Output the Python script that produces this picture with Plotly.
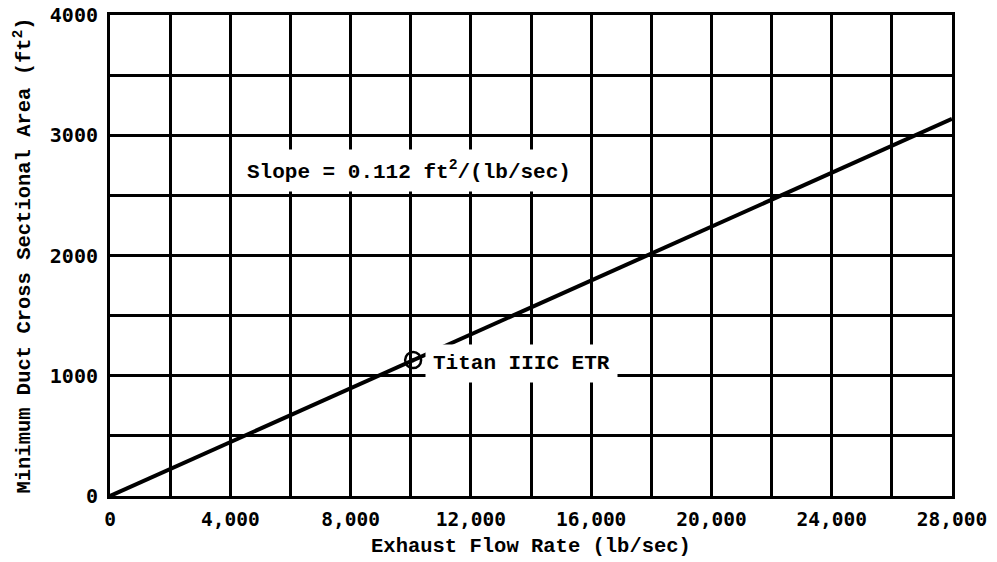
import plotly.graph_objects as go

# Data
flow_rate = [0, 28000]            # lb/sec
duct_area = [0, 3136]             # ft^2  (slope 0.112)
titan_x = [10080]
titan_y = [1130]
x_tick_vals = [0, 4000, 8000, 12000, 16000, 20000, 24000, 28000]
x_tick_text = ["0", "4,000", "8,000", "12,000", "16,000", "20,000", "24,000", "28,000"]
y_tick_vals = [0, 1000, 2000, 3000, 4000]
y_tick_text = ["0", "1000", "2000", "3000", "4000"]

FONT = "Liberation Mono"

fig = go.Figure()
fig.add_trace(go.Scatter(x=flow_rate, y=duct_area, mode="lines",
                         line=dict(color="black", width=4), showlegend=False,
                         hoverinfo="skip"))
fig.add_trace(go.Scatter(x=titan_x, y=titan_y, mode="markers",
                         marker=dict(symbol="circle-open-dot", size=16, color="black",
                                     line=dict(width=2.5, color="black")),
                         showlegend=False))

fig.add_annotation(x=9950, y=2711, xref="x", yref="y",
                   text="Slope = 0.112 ft<sup>2</sup>/(lb/sec)", showarrow=False,
                   font=dict(family=FONT, size=21, color="black", weight="bold"),
                   bgcolor="white", borderpad=7)
fig.add_annotation(x=13700, y=1098, xref="x", yref="y",
                   text="Titan IIIC ETR", showarrow=False,
                   font=dict(family=FONT, size=21, color="black", weight="bold"),
                   bgcolor="white", borderpad=7)

fig.update_xaxes(range=[0, 28000], tickvals=x_tick_vals, ticktext=x_tick_text,
                 showline=True, linecolor="black", linewidth=3, mirror=True,
                 gridcolor="black", gridwidth=2.5, showgrid=True, zeroline=False,
                 minor=dict(dtick=2000, tick0=0, showgrid=True, gridcolor="black", gridwidth=2.5),
                 tickfont=dict(family="DejaVu Sans Mono", size=19.5, color="black", weight="bold"),
                 ticks="", ticklabelstandoff=4, automargin=False,
                 title=dict(text="Exhaust Flow Rate (lb/sec)",
                            font=dict(family=FONT, size=20.5, color="black", weight="bold"),
                            standoff=8))
fig.update_yaxes(range=[0, 4000], tickvals=y_tick_vals, ticktext=y_tick_text,
                 showline=True, linecolor="black", linewidth=3, mirror=True,
                 gridcolor="black", gridwidth=2.5, showgrid=True, zeroline=False,
                 minor=dict(dtick=500, tick0=0, showgrid=True, gridcolor="black", gridwidth=2.5),
                 tickfont=dict(family="DejaVu Sans Mono", size=20, color="black", weight="bold"),
                 ticks="", ticklabelstandoff=5, automargin=False,
                 title=dict(text="Minimum Duct Cross Sectional Area (ft<sup>2</sup>)",
                            font=dict(family=FONT, size=20.5, color="black", weight="bold"),
                            standoff=14))

fig.update_layout(width=997, height=562, margin=dict(l=110, r=45, t=15, b=66),
                  plot_bgcolor="white", paper_bgcolor="white")

fig.write_html("out.html")
